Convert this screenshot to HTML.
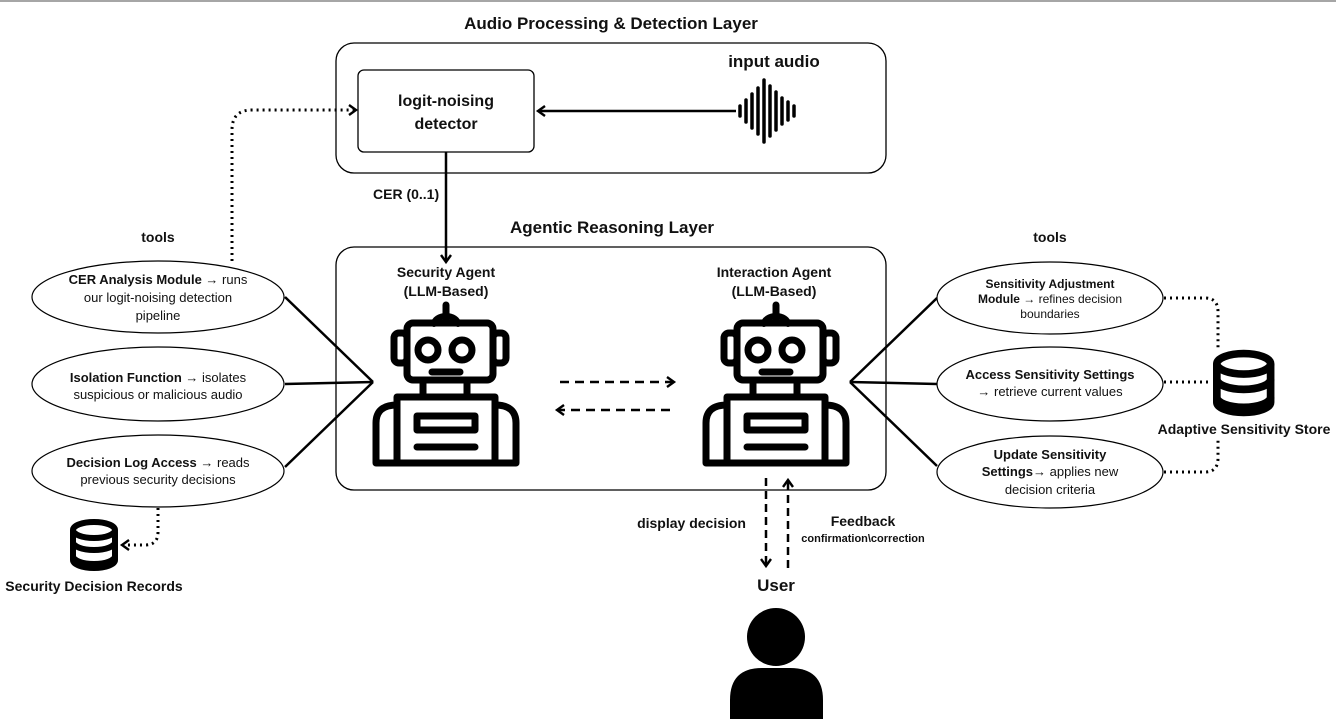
<!DOCTYPE html>
<html><head><meta charset="utf-8"><style>
html,body{margin:0;padding:0;background:#fff}
svg{display:block}
text{font-family:"Liberation Sans",sans-serif;fill:#111}
.b{font-weight:bold}
</style></head><body>
<svg width="1336" height="724" viewBox="0 0 1336 724" xmlns="http://www.w3.org/2000/svg">
<defs>
<marker id="ah" markerWidth="12" markerHeight="12" refX="8" refY="6" orient="auto" markerUnits="userSpaceOnUse">
<path d="M1,1 L8,6 L1,11" fill="none" stroke="#000" stroke-width="2.4"/></marker>
<g id="robot" fill="none" stroke="#000" stroke-width="7" stroke-linejoin="round" stroke-linecap="round">
<line x1="73" y1="2" x2="73" y2="15"/>
<path d="M61,21 A12,8 0 0 1 85,21" stroke-width="6"/>
<rect x="34" y="20" width="86" height="57" rx="6"/>
<rect x="21" y="30" width="13" height="30" rx="5"/>
<rect x="120" y="30" width="13" height="30" rx="5"/>
<circle cx="55" cy="47" r="10"/>
<circle cx="89" cy="47" r="10"/>
<line x1="59" y1="69" x2="87" y2="69"/>
<rect x="50" y="77" width="44" height="17"/>
<rect x="24" y="94" width="98" height="66"/>
<path d="M24,160 L3,160 L3,120 Q3,102 24,102"/>
<path d="M122,160 L143,160 L143,120 Q143,102 122,102"/>
<rect x="44" y="113" width="58" height="14"/>
<line x1="44" y1="144" x2="102" y2="144"/>
</g>
<g id="db" fill="#fff" stroke="#000" stroke-width="6">
<path d="M3,36 L3,40 A21,8 0 0 0 45,40 L45,36"/>
<path d="M3,22 L3,36 A21,8 0 0 0 45,36 L45,22"/>
<path d="M3,10 L3,22 A21,8 0 0 0 45,22 L45,10"/>
<ellipse cx="24" cy="10" rx="21" ry="8"/>
</g>
</defs>
<line x1="0" y1="1" x2="1336" y2="1" stroke="#888" stroke-width="1.5"/>

<text x="611" y="29" text-anchor="middle" class="b" font-size="17">Audio Processing &amp; Detection Layer</text>
<rect x="336" y="43" width="550" height="130" rx="18" fill="none" stroke="#000" stroke-width="1.3"/>
<rect x="358" y="70" width="176" height="82" rx="6" fill="none" stroke="#000" stroke-width="1.3"/>
<text x="446" y="106" text-anchor="middle" class="b" font-size="16">logit-noising</text>
<text x="446" y="129" text-anchor="middle" class="b" font-size="16">detector</text>
<text x="774" y="67" text-anchor="middle" class="b" font-size="17">input audio</text>
<g stroke="#000" stroke-width="3.5" stroke-linecap="round">
<line x1="740" y1="106" x2="740" y2="116"/><line x1="746" y1="100" x2="746" y2="122"/>
<line x1="752" y1="94" x2="752" y2="128"/><line x1="758" y1="88" x2="758" y2="134"/>
<line x1="764" y1="80" x2="764" y2="142"/><line x1="770" y1="86" x2="770" y2="136"/>
<line x1="776" y1="92" x2="776" y2="130"/><line x1="782" y1="98" x2="782" y2="124"/>
<line x1="788" y1="102" x2="788" y2="120"/><line x1="794" y1="106" x2="794" y2="116"/>
</g>
<line x1="736" y1="111" x2="538" y2="111" stroke="#000" stroke-width="2.5" marker-end="url(#ah)"/>
<line x1="446" y1="152" x2="446" y2="262" stroke="#000" stroke-width="2.5" marker-end="url(#ah)"/>
<text x="373" y="199" class="b" font-size="14">CER (0..1)</text>

<text x="612" y="233" text-anchor="middle" class="b" font-size="17">Agentic Reasoning Layer</text>
<rect x="336" y="247" width="550" height="243" rx="18" fill="none" stroke="#000" stroke-width="1.3"/>
<text x="446" y="277" text-anchor="middle" class="b" font-size="14">Security Agent</text>
<text x="446" y="296" text-anchor="middle" class="b" font-size="14">(LLM-Based)</text>
<text x="774" y="277" text-anchor="middle" class="b" font-size="14">Interaction Agent</text>
<text x="774" y="296" text-anchor="middle" class="b" font-size="14">(LLM-Based)</text>
<use href="#robot" x="373" y="303"/>
<use href="#robot" x="703" y="303"/>
<line x1="560" y1="382" x2="674" y2="382" stroke="#000" stroke-width="2.5" stroke-dasharray="9,6" marker-end="url(#ah)"/>
<line x1="670" y1="410" x2="557" y2="410" stroke="#000" stroke-width="2.5" stroke-dasharray="9,6" marker-end="url(#ah)"/>

<text x="158" y="242" text-anchor="middle" class="b" font-size="14">tools</text>
<g fill="#fff" stroke="#000" stroke-width="1.2">
<ellipse cx="158" cy="297" rx="126" ry="36"/>
<ellipse cx="158" cy="384" rx="126" ry="37"/>
<ellipse cx="158" cy="471" rx="126" ry="36"/>
</g>
<g font-size="13" text-anchor="middle">
<text x="158" y="284"><tspan class="b">CER Analysis Module</tspan> → runs</text>
<text x="158" y="302">our logit-noising detection</text>
<text x="158" y="320">pipeline</text>
<text x="158" y="382"><tspan class="b">Isolation Function</tspan> → isolates</text>
<text x="158" y="399">suspicious or malicious audio</text>
<text x="158" y="467"><tspan class="b">Decision Log Access</tspan> → reads</text>
<text x="158" y="484">previous security decisions</text>
</g>
<g stroke="#000" stroke-width="2.5">
<line x1="285" y1="297" x2="373" y2="382"/>
<line x1="285" y1="384" x2="373" y2="382"/>
<line x1="285" y1="467" x2="373" y2="382"/>
<line x1="937" y1="298" x2="850" y2="382"/>
<line x1="937" y1="384" x2="850" y2="382"/>
<line x1="937" y1="466" x2="850" y2="382"/>
</g>
<path d="M232,261 L232,130 Q232,110 252,110 L356,110" fill="none" stroke="#000" stroke-width="3" stroke-dasharray="2,4" marker-end="url(#ah)"/>
<use href="#db" x="70" y="520"/>
<path d="M158,508 L158,532 Q158,545 145,545 L122,545" fill="none" stroke="#000" stroke-width="3" stroke-dasharray="2,4" marker-end="url(#ah)"/>
<text x="94" y="591" text-anchor="middle" class="b" font-size="14">Security Decision Records</text>

<text x="1050" y="242" text-anchor="middle" class="b" font-size="14">tools</text>
<g fill="#fff" stroke="#000" stroke-width="1.2">
<ellipse cx="1050" cy="298" rx="113" ry="36"/>
<ellipse cx="1050" cy="384" rx="113" ry="37"/>
<ellipse cx="1050" cy="472" rx="113" ry="36"/>
</g>
<g font-size="12" text-anchor="middle">
<text x="1050" y="288" class="b">Sensitivity Adjustment</text>
<text x="1050" y="303"><tspan class="b">Module</tspan> → refines decision</text>
<text x="1050" y="318">boundaries</text>
</g>
<g font-size="13" text-anchor="middle">
<text x="1050" y="379" class="b">Access Sensitivity Settings</text>
<text x="1050" y="396">→ retrieve current values</text>
<text x="1050" y="459" class="b">Update Sensitivity</text>
<text x="1050" y="476"><tspan class="b">Settings</tspan>→ applies new</text>
<text x="1050" y="494">decision criteria</text>
</g>
<use href="#db" transform="translate(1213,351) scale(1.28)"/>
<g fill="none" stroke="#000" stroke-width="3" stroke-dasharray="2,4">
<path d="M1164,298 L1205,298 Q1218,298 1218,312 L1218,348"/>
<path d="M1164,382 L1212,382"/>
<path d="M1164,472 L1205,472 Q1218,472 1218,458 L1218,440"/>
</g>
<text x="1244" y="434" text-anchor="middle" class="b" font-size="14">Adaptive Sensitivity Store</text>

<line x1="766" y1="478" x2="766" y2="566" stroke="#000" stroke-width="2.5" stroke-dasharray="8,5" marker-end="url(#ah)"/>
<line x1="788" y1="568" x2="788" y2="480" stroke="#000" stroke-width="2.5" stroke-dasharray="8,5" marker-end="url(#ah)"/>
<text x="746" y="528" text-anchor="end" class="b" font-size="14">display decision</text>
<text x="863" y="526" text-anchor="middle" class="b" font-size="14">Feedback</text>
<text x="863" y="542" text-anchor="middle" class="b" font-size="11">confirmation\correction</text>
<text x="776" y="591" text-anchor="middle" class="b" font-size="17">User</text>
<circle cx="776" cy="637" r="29" fill="#000"/>
<path d="M730,719 L730,700 Q730,668 762,668 L790,668 Q823,668 823,700 L823,719 Z" fill="#000"/>
</svg>
</body></html>
